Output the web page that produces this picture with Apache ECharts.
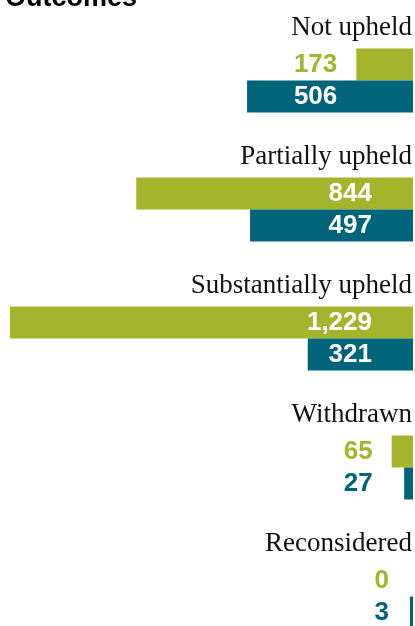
<!DOCTYPE html>
<html>
<head>
<meta charset="utf-8">
<title>Outcomes</title>
<script src="https://cdn.jsdelivr.net/npm/echarts@6/dist/echarts.min.js"></script>
<style>
  html, body { margin: 0; padding: 0; background: #fff; }
  #chart { width: 415px; height: 626px; }
</style>
</head>
<body>
<div id="chart"></div>
<script>
const categories = ['Not upheld', 'Partially upheld', 'Substantially upheld', 'Withdrawn', 'Reconsidered']
const greenValues = [173, 844, 1229, 65, 0]
const tealValues = [506, 497, 321, 27, 3]

const GREEN = '#a3b52d'
const TEAL = '#00657b'
const axisRight = 413
const axisLeft = 10
const maxValue = 1229
const pxPerUnit = (axisRight - axisLeft) / maxValue

function fmt(v) {
  return v.toLocaleString('en-US')
}

// a bar holds its own label only if it is long enough
function isInside(v) {
  return v * pxPerUnit > 80
}

// labels of one category share one right edge
function anchorFor(i) {
  let widest = -1
  ;[greenValues[i], tealValues[i]].forEach(v => {
    if (!isInside(v)) widest = Math.max(widest, Math.max(v * pxPerUnit, 5))
  })
  return widest < 0 ? 372 : axisRight - widest - 19
}

function buildData(values, color) {
  return values.map((v, i) => ({
    value: v,
    label: {
      show: true,
      position: 'insideRight',
      distance: axisRight - anchorFor(i),
      color: isInside(v) ? '#fff' : color,
      formatter: () => fmt(v)
    }
  }))
}

const chart = echarts.init(document.getElementById('chart'))

chart.setOption({
  animation: false,
  title: {
    text: 'Outcomes',
    left: 0,
    top: -20,
    textStyle: {
      fontFamily: 'Liberation Sans',
      fontSize: 27,
      fontWeight: 'bold',
      color: '#000'
    }
  },
  grid: {
    left: axisLeft,
    right: 415 - axisRight,
    top: 16,
    height: 645,
    outerBoundsMode: 'none',
    containLabel: false
  },
  xAxis: {
    type: 'value',
    inverse: true,
    min: 0,
    max: maxValue,
    show: false
  },
  yAxis: {
    type: 'category',
    data: categories,
    inverse: true,
    position: 'right',
    axisLine: { show: false },
    axisTick: { show: false },
    splitLine: { show: false },
    axisLabel: {
      inside: true,
      margin: 1,
      align: 'right',
      verticalAlign: 'middle',
      // second empty line lifts the name above its bars
      formatter: name => '{n|' + name + '}\n{gap|}',
      rich: {
        n: {
          fontFamily: 'Liberation Serif',
          fontSize: 27,
          lineHeight: 30,
          color: '#111'
        },
        gap: { height: 106 }
      }
    }
  },
  series: [
    {
      name: 'green',
      type: 'bar',
      data: buildData(greenValues, GREEN),
      barWidth: 32,
      barGap: '0%',
      barMinHeight: 3,
      itemStyle: { color: GREEN },
      label: {
        fontFamily: 'Liberation Sans',
        fontSize: 26,
        fontWeight: 'bold'
      }
    },
    {
      name: 'teal',
      type: 'bar',
      data: buildData(tealValues, TEAL),
      barWidth: 32,
      barGap: '0%',
      barMinHeight: 3,
      itemStyle: { color: TEAL },
      label: {
        fontFamily: 'Liberation Sans',
        fontSize: 26,
        fontWeight: 'bold'
      }
    }
  ]
})
</script>
</body>
</html>
